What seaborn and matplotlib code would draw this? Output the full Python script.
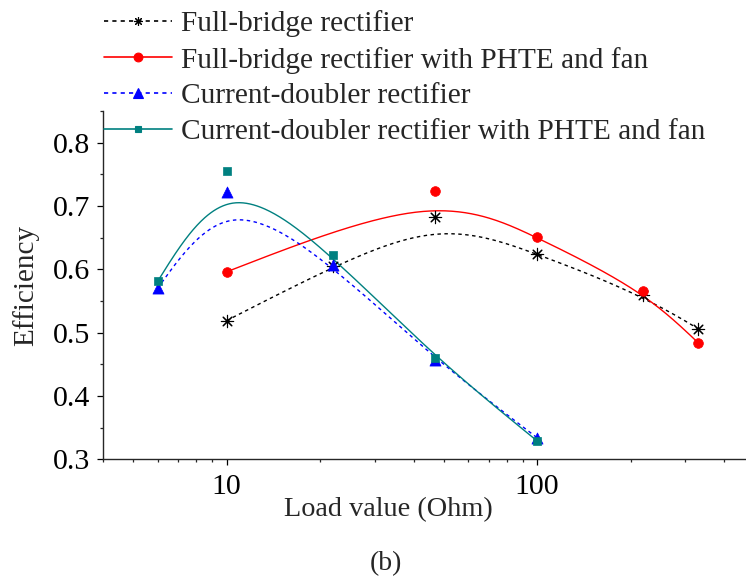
import numpy as np
import matplotlib
matplotlib.use("Agg")
import matplotlib.pyplot as plt
from matplotlib.lines import Line2D
from matplotlib.ticker import LogLocator, NullFormatter, MultipleLocator
import seaborn as sns

# load value (Ohm) and measured efficiency
fb_load = [10, 22, 47, 100, 220, 330]
fb_eff = [0.519, 0.605, 0.683, 0.624, 0.560, 0.506]

fb_fan_load = [10, 47, 100, 220, 330]
fb_fan_eff = [0.596, 0.724, 0.651, 0.566, 0.484]

cd_load = [6, 10, 22, 47, 100]
cd_eff = [0.570, 0.722, 0.607, 0.457, 0.334]

cd_fan_load = [6, 10, 22, 47, 100]
cd_fan_eff = [0.581, 0.756, 0.622, 0.460, 0.329]

labels = ["Full-bridge rectifier",
          "Full-bridge rectifier with PHTE and fan",
          "Current-doubler rectifier",
          "Current-doubler rectifier with PHTE and fan"]

y_ticks = [0.3, 0.4, 0.5, 0.6, 0.7, 0.8]


def bspline_clamped(xs, ys, k=3, n=300):
    # cubic B-spline with the data points as control points (x in log space)
    px = np.log10(np.asarray(xs, float))
    py = np.asarray(ys, float)
    m = len(px)
    t = np.concatenate([np.zeros(k), np.linspace(0, 1, m - k + 1), np.ones(k)])
    u = np.linspace(0, 1, n)
    B = np.zeros((n, len(t) - 1))
    for i in range(len(t) - 1):
        B[:, i] = (t[i] <= u) & (u < t[i + 1])
    last = np.max(np.nonzero(t < 1)[0])
    B[u >= 1, :] = 0
    B[u >= 1, last] = 1
    for d in range(1, k + 1):
        Bn = np.zeros((n, len(t) - 1 - d))
        for i in range(len(t) - 1 - d):
            a = (u - t[i]) / (t[i + d] - t[i]) * B[:, i] if t[i + d] > t[i] else 0
            b = (t[i + d + 1] - u) / (t[i + d + 1] - t[i + 1]) * B[:, i + 1] if t[i + d + 1] > t[i + 1] else 0
            Bn[:, i] = a + b
        B = Bn
    return 10 ** (B @ px), B @ py


def bspline_uniform(xs, ys, n=80):
    # uniform cubic B-spline, end points mirrored so the curve hits both ends
    p = np.column_stack([np.log10(xs), ys])
    p = np.vstack([2 * p[0] - p[1], p, 2 * p[-1] - p[-2]])
    s = np.linspace(0, 1, n)[:, None]
    b0 = (1 - s) ** 3 / 6
    b1 = (3 * s ** 3 - 6 * s ** 2 + 4) / 6
    b2 = (-3 * s ** 3 + 3 * s ** 2 + 3 * s + 1) / 6
    b3 = s ** 3 / 6
    pts = np.vstack([b0 * p[i] + b1 * p[i + 1] + b2 * p[i + 2] + b3 * p[i + 3]
                     for i in range(len(p) - 3)])
    return 10 ** pts[:, 0], pts[:, 1]


sns.set_style("ticks")
plt.rcParams["font.family"] = ["Liberation Serif", "DejaVu Serif"]
plt.rcParams["axes.linewidth"] = 1.0

fig = plt.figure(figsize=(7.46, 5.76), dpi=100)
ax = fig.add_axes([0.138, 0.2026, 0.873, 0.6047])
ax.set_xscale("log")

series = [
    (fb_load, fb_eff, "black", (0, (2.5, 2.5)), (8, 2, 0), 7, bspline_clamped),
    (fb_fan_load, fb_fan_eff, "#FF0000", "-", "o", 7, bspline_uniform),
    (cd_load, cd_eff, "#0000FF", (0, (2.5, 2.5)), "^", 8, bspline_uniform),
    (cd_fan_load, cd_fan_eff, "#008080", "-", "s", 5.5, bspline_uniform),
]

handles = []
for (xs, ys, col, ls, mk, ms, smooth), lab in zip(series, labels):
    cx, cy = smooth(xs, ys)
    sns.lineplot(x=cx, y=cy, sort=False, estimator=None, color=col,
                 linestyle=ls, linewidth=1.0, ax=ax)
    if mk == (8, 2, 0):
        sns.scatterplot(x=xs, y=ys, marker=mk, s=ms ** 2 * 1.6, color=col,
                        edgecolor=col, linewidth=0.8, ax=ax, zorder=5)
    else:
        sns.scatterplot(x=xs, y=ys, marker=mk, s=ms ** 2, color=col,
                        edgecolor=col, linewidth=0.5, ax=ax, zorder=5)
    handles.append(Line2D([], [], color=col, linestyle=ls, linewidth=1.2,
                          marker=mk, markersize=ms * 0.9, markeredgecolor=col,
                          markerfacecolor=col, markeredgewidth=0.8))

ax.set_xlim(4, 500)
ax.set_ylim(0.3, 0.85)
ax.set_xticks([10, 100], ["10", "100"])
ax.xaxis.set_minor_locator(LogLocator(base=10, subs=np.arange(2, 10)))
ax.xaxis.set_minor_formatter(NullFormatter())
ax.set_yticks(y_ticks, [f"{v:.1f}" for v in y_ticks])
ax.yaxis.set_minor_locator(MultipleLocator(0.05))

ax.tick_params(which="major", direction="out", length=4, width=0.9,
               labelsize=21.5, colors="black")
ax.tick_params(axis="x", which="major", pad=6.5)
ax.tick_params(axis="y", which="major", pad=4.9)
ax.tick_params(which="minor", direction="out", length=2.5, width=0.9)
sns.despine(ax=ax)

ax.set_xlabel("Load value (Ohm)", fontsize=20.3)
ax.set_ylabel("Efficiency", fontsize=21)
ax.xaxis.set_label_coords(0.438, -0.108)
ax.yaxis.set_label_coords(-0.098, 0.5)

fig.legend(handles, labels, loc="upper left", bbox_to_anchor=(104 / 746, 1 - 10.5 / 576),
           frameon=False, fontsize=21.2, handlelength=2.3, handletextpad=0.3,
           borderpad=0, borderaxespad=0, labelspacing=0.31)

fig.text(386 / 746, 1 - 564 / 576, "(b)", ha="center", va="center", fontsize=20)

fig.savefig("out.png", dpi=100)
